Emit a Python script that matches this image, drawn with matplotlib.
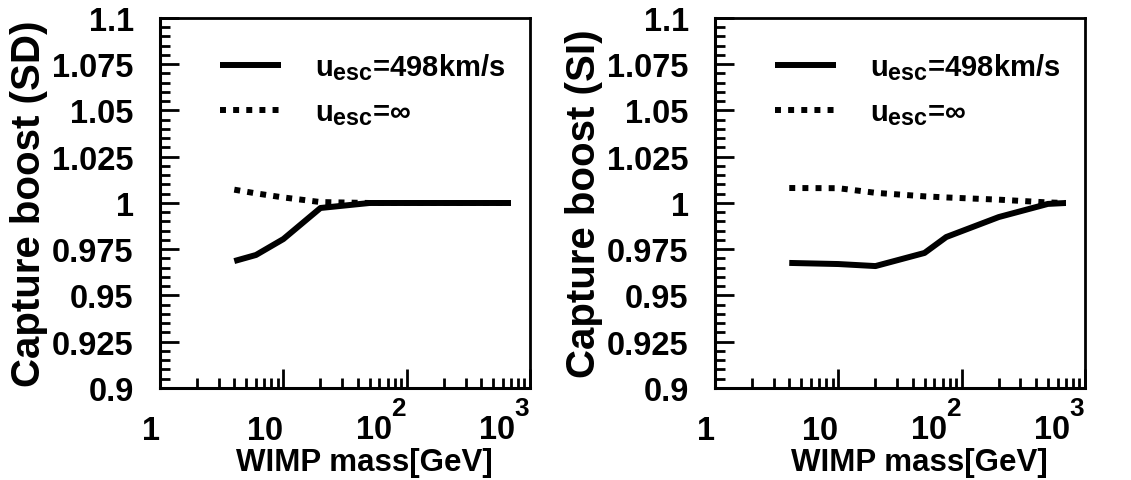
import matplotlib
matplotlib.use("Agg")
import matplotlib.pyplot as plt
import matplotlib.ticker as mticker
import matplotlib._mathtext as mt
import numpy as np

plt.rcParams['font.family'] = ['Liberation Sans', 'DejaVu Sans']
plt.rcParams['font.weight'] = 'bold'
plt.rcParams['mathtext.fontset'] = 'custom'
plt.rcParams['mathtext.rm'] = 'Liberation Sans:bold'
plt.rcParams['mathtext.it'] = 'Liberation Sans:bold'
plt.rcParams['mathtext.bf'] = 'Liberation Sans:bold'
# superscritos maiores e mais altos, como no ROOT
mt.SHRINK_FACTOR = 0.8
mt.FontConstantsBase.sup1 = 1.3

# data
massa_sd = [4, 6, 10, 20, 50, 100, 200, 500, 700]
boost_sd_esc = [0.9686, 0.9719, 0.9805, 0.9973, 1.0, 1.0, 1.0, 1.0, 1.0]
boost_sd_inf = [1.0072, 1.0052, 1.0030, 1.0005, 1.0, 1.0, 1.0, 1.0, 1.0]

massa_si = [4, 10, 20, 50, 75, 200, 500, 700]
boost_si_esc = [0.9676, 0.9670, 0.9659, 0.9730, 0.9816, 0.9924, 0.9995, 1.0]
boost_si_inf = [1.0081, 1.0080, 1.0055, 1.0036, 1.0030, 1.0018, 1.0003, 1.0]

yticks = [0.9, 0.925, 0.95, 0.975, 1.0, 1.025, 1.05, 1.075, 1.1]
ytick_labels = ['0.9', '0.925', '0.95', '0.975', '1', '1.025', '1.05', '1.075', '1.1']
xticks = [1, 10, 100, 1000]
xtick_labels = ['1', '10', '$10^{2}$', '$10^{3}$']

label_esc = '$u_{esc}$=498km/s'
label_inf = '$u_{esc}$=$\\infty$'

fs = 23.5


def desenhar(ax, massa, b_esc, b_inf, ylabel):
    ax.plot(massa, b_esc, color='black', lw=4.3, solid_capstyle='butt',
            label=label_esc)
    ax.plot(massa, b_inf, color='black', lw=4.3, linestyle=(0, (1, 1.2)),
            dash_capstyle='butt', label=label_inf)
    ax.set_xscale('log')
    ax.set_xlim(1, 1000)
    ax.set_ylim(0.9, 1.1)

    ax.xaxis.set_major_locator(mticker.FixedLocator(xticks))
    ax.xaxis.set_major_formatter(mticker.FixedFormatter(xtick_labels))
    ax.xaxis.set_minor_locator(mticker.LogLocator(base=10, subs=np.arange(2, 10)))
    ax.xaxis.set_minor_formatter(mticker.NullFormatter())
    ax.yaxis.set_major_locator(mticker.FixedLocator(yticks))
    ax.yaxis.set_major_formatter(mticker.FixedFormatter(ytick_labels))
    ax.yaxis.set_minor_locator(mticker.MultipleLocator(0.005))

    ax.tick_params(which='major', direction='in', length=13.7, width=2,
                   labelsize=fs, top=False, right=False)
    ax.tick_params(which='minor', direction='in', length=7, width=2,
                   top=False, right=False)
    ax.tick_params(axis='y', which='major', pad=19)
    ax.tick_params(axis='x', which='major', pad=36.5)
    for t in ax.get_xticklabels():
        t.set_horizontalalignment('right')
        t.set_verticalalignment('baseline')
    for s in ax.spines.values():
        s.set_linewidth(2)
    ax.spines['left'].set_linewidth(2.2)
    ax.spines['bottom'].set_linewidth(2.2)

    ax.set_ylabel(ylabel, fontsize=29, fontweight='bold', labelpad=3)
    ax.set_xlabel('WIMP mass[GeV]', fontsize=22.5, fontweight='bold')
    ax.xaxis.set_label_coords(0.9, -0.16)
    ax.xaxis.label.set_horizontalalignment('right')

    ax.legend(loc='upper left', bbox_to_anchor=(0.162, 0.91), frameon=False,
              fontsize=21, handlelength=2.1, handletextpad=1.15,
              labelspacing=0.55, borderpad=0, borderaxespad=0)


fig = plt.figure(figsize=(11.31, 4.81), dpi=100)
ax1 = fig.add_axes([0.1415, 0.1913, 0.3271, 0.7692])
ax2 = fig.add_axes([0.6322, 0.1913, 0.3271, 0.7692])

desenhar(ax1, massa_sd, boost_sd_esc, boost_sd_inf, 'Capture boost (SD)')
desenhar(ax2, massa_si, boost_si_esc, boost_si_inf, 'Capture boost (SI)')

fig.savefig('out.png', dpi=100)
